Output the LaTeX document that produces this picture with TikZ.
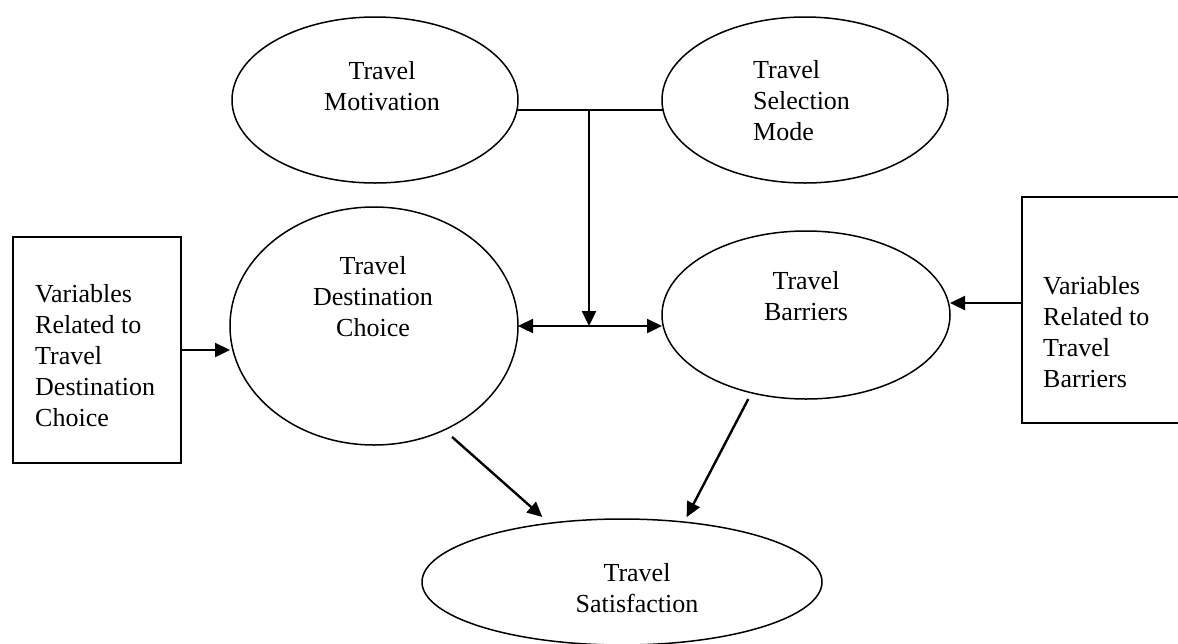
\documentclass[tikz,border=0pt]{standalone}
\usepackage{fontspec}
\setmainfont{Liberation Serif}
\usetikzlibrary{arrows.meta,shapes.geometric,calc}
\begin{document}
\begin{tikzpicture}[x=1pt,y=-1pt,
  ell/.style={draw, ellipse, line width=1.5pt, inner sep=0pt, outer sep=0pt},
  box/.style={draw, rectangle, line width=2.2pt, inner sep=0pt, outer sep=0pt},
  txt/.style={font=\fontsize{26}{31}\selectfont, inner sep=0pt},
  tip/.tip={Triangle[length=15pt,width=14pt]},
  arr/.style={line width=2.4pt, -tip},
  darr/.style={line width=2.4pt, tip-tip},
  conn/.style={line width=2pt}]
\useasboundingbox (0,0) rectangle (1178,643);

% ellipses
\node[ell, minimum width=286pt, minimum height=166pt] (mot) at (375,100) {};
\node[ell, minimum width=286pt, minimum height=166pt] (sel) at (805,100) {};
\node[ell, minimum width=288pt, minimum height=238pt] (dest) at (374,326) {};
\node[ell, minimum width=288pt, minimum height=168pt] (bar) at (806,315) {};
\node[ell, minimum width=400pt, minimum height=126pt] (sat) at (622,582) {};

% boxes
\node[box, minimum width=168pt, minimum height=226pt] (lbox) at (97,350) {};
\node[box, minimum width=178pt, minimum height=226pt] (rbox) at (1111,310) {};

% texts
\node[txt, align=center] (mott) at (382,86) {Travel\\Motivation};
\node[txt, align=left, anchor=west] (selt) at (753,101) {Travel\\Selection\\Mode};
\node[txt, align=center] (destt) at (373,297) {Travel\\Destination\\Choice};
\node[txt, align=center] (bart) at (806,296) {Travel\\Barriers};
\node[txt, align=center] (satt) at (637,588) {Travel\\Satisfaction};
\node[txt, align=left, anchor=west] (lboxt) at (35,356) {Variables\\Related to\\Travel\\Destination\\Choice};
\node[txt, align=left, anchor=west] (rboxt) at (1043,332) {Variables\\Related to\\Travel\\Barriers};

% connectors
\coordinate (junc) at (589,111);
\draw[conn] (mot.-4.44) -- (mot.-4.44 -| sel.-175.56);
\coordinate (mid) at (junc |- dest.east);
\draw[arr] (junc) -- (mid);
\draw[darr] (dest.east) -- (dest.east -| bar.west);
\draw[arr] (lbox.east) -- (lbox.east -| dest.west);
\draw[arr] ([yshift=7pt]rbox.west) -- ([yshift=7pt]rbox.west -| bar.east);
\draw[arr, shorten <=10.6pt, shorten >=9.5pt] (dest.-56) -- (sat.141.2);
\draw[arr, shorten <=7.1pt, shorten >=5.6pt] (bar.-125.15) -- (sat.44.8);
\end{tikzpicture}
\end{document}
